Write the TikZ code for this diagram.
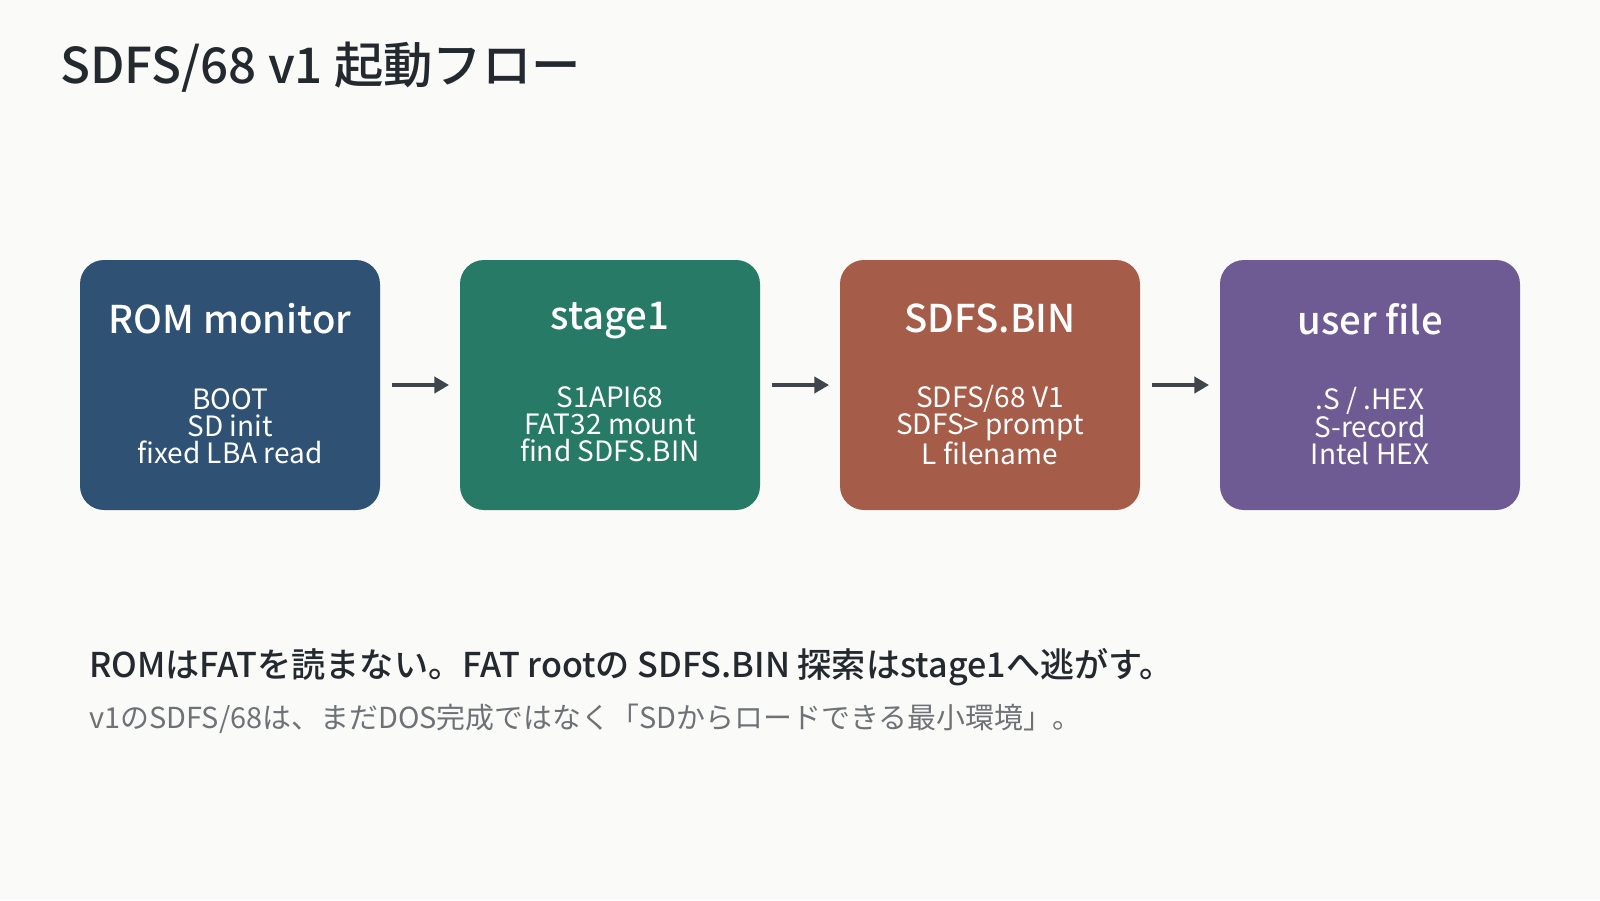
\documentclass[tikz,border=0pt]{standalone}
\usepackage{fontspec}
\setmainfont{Noto Sans CJK JP}[BoldFont={Noto Sans CJK JP Medium}]
\usetikzlibrary{arrows.meta}
\definecolor{bg}{HTML}{FAFAF8}
\definecolor{ink}{HTML}{23292E}
\definecolor{sub}{HTML}{6E7276}
\definecolor{arr}{HTML}{3F454B}
\definecolor{cA}{HTML}{2F5173}
\definecolor{cB}{HTML}{277A66}
\definecolor{cC}{HTML}{A55D4A}
\definecolor{cD}{HTML}{6F5B94}
\tikzset{
  card/.style={fill=#1, draw=none, rounded corners=18pt, minimum width=225pt, minimum height=187.5pt, inner sep=0pt},
  cardtitle/.style={text=white, font=\fontsize{28.7}{32}\selectfont\bfseries, inner sep=0pt, anchor=center},
  cardbody/.style={text=white, font=\fontsize{21}{20.3}\selectfont, align=center, inner sep=0pt, anchor=center},
  flow/.style={draw=arr, line width=3pt, -{Triangle[length=11pt,width=12pt]}}
}
\begin{document}
\begin{tikzpicture}[x=0.75pt,y=-0.75pt]
\fill[bg] (0,0) rectangle (1600,900);
\useasboundingbox (0,0) rectangle (1600,900);
\node[anchor=west, text=ink, font=\fontsize{37}{40}\selectfont\bfseries, inner sep=0pt] (title) at (60,67) {SDFS/68 v1 起動フロー};

\node[card=cA] (b1) at (230,385) {};
\node[card=cB] (b2) at (610,385) {};
\node[card=cC] (b3) at (990,385) {};
\node[card=cD] (b4) at (1370,385) {};

\node[cardtitle] (t1) at (230,319) {ROM monitor};
\node[cardtitle] (t2) at (610,321) {stage1};
\node[cardtitle] (t3) at (990,318) {SDFS.BIN};
\node[cardtitle] (t4) at (1370,319) {user file};

\node[cardbody] (d1) at (230,426) {BOOT\\SD init\\fixed LBA read};
\node[cardbody] (d2) at (610,424) {S1API68\\FAT32 mount\\find SDFS.BIN};
\node[cardbody] (d3) at (990,425) {SDFS/68 V1\\SDFS> prompt\\L filename};
\node[cardbody] (d4) at (1370,426) {.S / .HEX\\S-record\\Intel HEX};

\draw[flow] ([xshift=9]b1.east) -- ([xshift=-8]b2.west);
\draw[flow] ([xshift=9]b2.east) -- ([xshift=-8]b3.west);
\draw[flow] ([xshift=9]b3.east) -- ([xshift=-8]b4.west);

\node[anchor=west, text=ink, font=\fontsize{25.6}{28}\selectfont\bfseries, inner sep=0pt] (m1) at (89,667) {ROMはFATを読まない。FAT rootの SDFS.BIN 探索はstage1へ逃がす。};
\node[anchor=west, text=sub, font=\fontsize{21.7}{24}\selectfont, inner sep=0pt] (m2) at (89,719) {v1のSDFS/68は、まだDOS完成ではなく「SDからロードできる最小環境」。};
\end{tikzpicture}
\end{document}
